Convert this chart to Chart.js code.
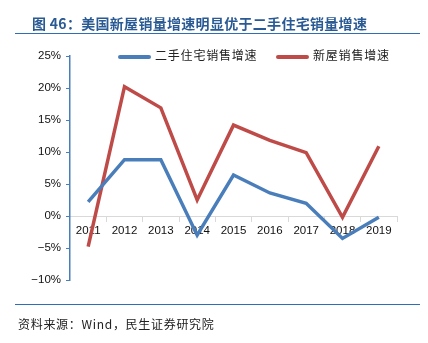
<!DOCTYPE html>
<html>
<head>
<meta charset="utf-8">
<script src="https://cdn.jsdelivr.net/npm/chart.js@4"></script>
<style>
  html, body { margin: 0; padding: 0; background: #fff; }
  #wrap { position: relative; width: 428px; height: 343px; overflow: hidden; }
  #chart { position: absolute; left: 0; top: 0; }
  .title {
    position: absolute; left: 32px; top: 13px;
    font: bold 14px "Noto Sans CJK SC", sans-serif; color: #2A5A94;
    white-space: nowrap; letter-spacing: 0.3px;
  }
  .rule { position: absolute; left: 15px; width: 405px; height: 1px; background: #2F6DB5; }
  .source {
    position: absolute; left: 18px; top: 315px;
    font: 12px "Noto Sans CJK SC", sans-serif; color: #222; white-space: nowrap; letter-spacing: 0.7px;
  }
  #legend { position: absolute; top: 46px; left: 0; font: 12px "Noto Sans CJK SC", sans-serif; color: #222; }
  .item { position: absolute; white-space: nowrap; letter-spacing: 0.8px; }
  .swatch { display: inline-block; width: 33px; height: 4px; border-radius: 2px; vertical-align: middle; margin-right: 4px; }
</style>
</head>
<body>
<div id="wrap">
  <canvas id="chart" width="428" height="343"></canvas>
  <div class="title">图 46：美国新屋销量增速明显优于二手住宅销量增速</div>
  <div class="rule" style="top:33px"></div>
  <div id="legend"></div>
  <div class="rule" style="top:304px"></div>
  <div class="source">资料来源：Wind，民生证券研究院</div>
</div>
<script>
const years = ["2011", "2012", "2013", "2014", "2015", "2016", "2017", "2018", "2019"];
const existingHomes = [2.2, 8.8, 8.8, -3.0, 6.4, 3.6, 2.0, -3.5, -0.2];
const newHomes = [-4.8, 20.2, 16.9, 2.5, 14.2, 11.8, 9.9, -0.2, 10.9];
const seriesNames = ["二手住宅销售增速", "新屋销售增速"];
const seriesColors = ["#4A7EBB", "#BE4B48"];

const datasets = [existingHomes, newHomes].map((values, i) => ({
  label: seriesNames[i],
  data: values,
  borderColor: seriesColors[i],
  backgroundColor: seriesColors[i],
  borderWidth: 3.5,
  pointRadius: 0,
  tension: 0,
  fill: false
}));

// legend sits inside the plot, above the lines
const legendX = [118, 276];
const legend = document.getElementById("legend");
datasets.forEach((ds, i) => {
  const el = document.createElement("div");
  el.className = "item";
  el.style.left = legendX[i] + "px";
  el.innerHTML = '<span class="swatch" style="background:' + ds.borderColor + '"></span>' + ds.label;
  legend.appendChild(el);
});

new Chart(document.getElementById("chart"), {
  type: "line",
  data: { labels: years, datasets: datasets },
  options: {
    responsive: false,
    animation: false,
    layout: { padding: { top: 56, right: 31, bottom: 63, left: 0 } },
    plugins: { legend: { display: false }, tooltip: { enabled: false } },
    scales: {
      x: {
        position: { y: 0 },
        offset: true,
        grid: { offset: true, drawOnChartArea: false, drawTicks: true, tickLength: 5, color: "#D9D9D9" },
        border: { color: "#D9D9D9", width: 1 },
        ticks: { color: "#111", padding: 3, font: { family: "Liberation Sans", size: 11.5 }, maxRotation: 0 }
      },
      y: {
        min: -10,
        max: 25,
        afterFit: (s) => { s.width = 70; },
        grid: { drawOnChartArea: false, tickLength: 4, color: "#4A7EBB" },
        border: { color: "#4A7EBB", width: 1.5 },
        ticks: {
          stepSize: 5,
          padding: 5,
          color: "#111",
          font: { family: "Liberation Sans", size: 11.5 },
          callback: (v) => (v < 0 ? "−" + Math.abs(v) : v) + "%"
        }
      }
    }
  }
});
</script>
</body>
</html>
